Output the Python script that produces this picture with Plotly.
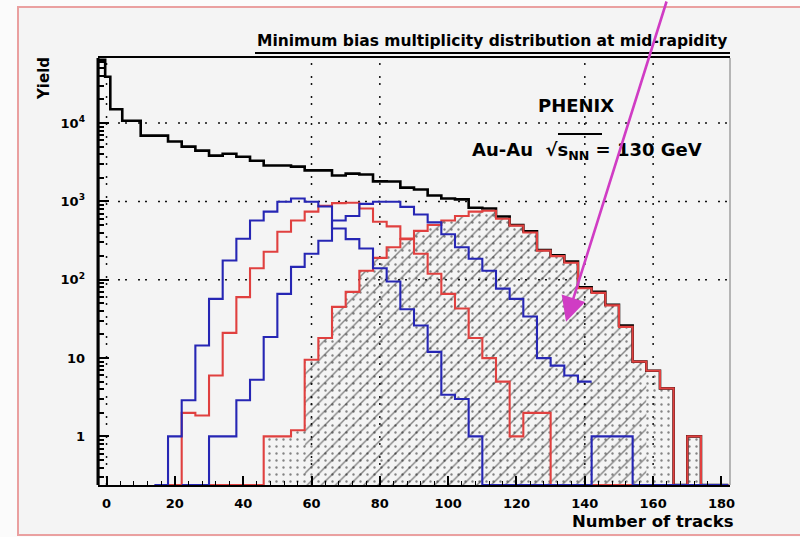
import numpy as np
import plotly.graph_objects as go

# ---------------------------------------------------------------- data
BIN_W = 4  # tracks per bin

# minimum-bias total: a few irregular leading bins, then regular 4-track bins from 10
total_lead_edges = [-2.5, -0.4, 1.1, 4.6, 10]
total_lead_vals = [64000, 39000, 15000, 10700]
total_start = 10
total_vals = [6900, 6900, 5800, 5000, 4450, 3840, 4060, 3710, 3300, 2870,
              2870, 2780, 2490, 2490, 2140, 2260, 2200, 1800, 1790, 1500,
              1420, 1190, 1090, 1060, 830, 810, 640, 500, 415, 240,
              205, 170, 80, 70, 48, 26, 9, 6.9, 4.1, 0,
              1, 0, 0]

# centrality-selected classes (bins of 4 tracks starting at the given edge)
blue1_start = 14
blue1_vals = [0, 1, 2.9, 14.5, 57, 176, 334, 570, 740, 990,
              1090, 990, 860, 450, 330, 250, 140, 95, 42, 26,
              12, 3.4, 3.0, 1, 0, 0, 0, 0, 0, 0,
              0, 0, 1, 1, 1, 0, 0, 0, 0, 0, 0, 0]

red1_start = 18
red1_vals = [0, 2.0, 1.85, 6.0, 21, 60, 140, 228, 410, 570,
             740, 880, 950, 960, 810, 550, 480, 335, 215, 119,
             66, 43, 18, 10, 5, 1, 2, 2, 0, 0,
             0, 0, 0, 0, 0, 0, 0, 0, 0, 0, 0]

blue2_start = 22
blue2_vals = [0, 0, 1, 1, 2.9, 5.3, 18.6, 66, 146, 215,
              315, 570, 650, 930, 990, 990, 850, 680, 540, 380,
              260, 185, 130, 77, 57, 34, 10, 8, 6, 5]

red2_start = 22
red2_vals = [0, 0, 0, 0, 0, 0, 1, 1, 1.2, 9.5,
             18, 45, 70, 130, 190, 260, 330, 420, 500, 570,
             650, 740, 760, 600, 490, 400, 235, 200, 165, 78,
             68, 47, 25, 9, 6.9, 4.1, 0, 1, 0, 0]

# hatched sub-range of the most central class (bin edges in tracks)
hatch_lo, hatch_hi = 58, 158

x_ticks = list(range(0, 181, 20))
y_ticks = [1, 10, 100, 1000, 10000]
y_ticktext = ["1", "10", "10<sup>2</sup>", "10<sup>3</sup>", "10<sup>4</sup>"]

title_text = "Minimum bias multiplicity distribution at mid-rapidity"
x_title = "Number of tracks"
y_title = "Yield"

# ---------------------------------------------------------------- helpers
X_RANGE = [-2.5, 182.5]
Y_RANGE = [-0.62, 4.83]
FLOOR = 10 ** Y_RANGE[0]  # empty bins are drawn on the bottom of the frame

BLUE = "#2626b4"
RED = "#e0403f"
MAGENTA = "#d03cc4"
FONT = "DejaVu Sans"


def step_xy(edges, vals, close_start=True, close_end=True):
    ys = [max(v, FLOOR) for v in vals]
    xs = [edges[0]] + list(edges[:-1]) + [edges[-1]]
    yy = [FLOOR] + ys + [ys[-1]]
    if not close_start:
        xs, yy = xs[1:], yy[1:]
    if close_end:
        xs.append(edges[-1])
        yy.append(FLOOR)
    return xs, yy


def regular_edges(start, n):
    return list(start + BIN_W * np.arange(n + 1))


def step_line(edges, vals, color, width, close_end=True):
    xs, ys = step_xy(edges, vals, close_end=close_end)
    return go.Scatter(x=xs, y=ys, mode="lines", line_shape="hv",
                      line=dict(color=color, width=width),
                      hoverinfo="skip", showlegend=False)


def step_fill(edges, vals, shape, size, solidity):
    xs, ys = step_xy(edges, vals)
    xs.append(xs[0])
    ys.append(ys[0])
    return go.Scatter(x=xs, y=ys, mode="lines", line_shape="hv",
                      line=dict(width=0, color="rgba(0,0,0,0)"),
                      fill="toself", fillcolor="rgba(0,0,0,0)",
                      fillpattern=dict(shape=shape, fgcolor="#111111",
                                       size=size, solidity=solidity),
                      hoverinfo="skip", showlegend=False)


total_edges = total_lead_edges + regular_edges(total_start, len(total_vals))[1:]
total_all = total_lead_vals + total_vals

red2_edges = regular_edges(red2_start, len(red2_vals))
i0 = (hatch_lo - red2_start) // BIN_W
i1 = (hatch_hi - red2_start) // BIN_W
hatch_edges = red2_edges[i0:i1 + 1]
hatch_vals = red2_vals[i0:i1]

fig = go.Figure()

# pattern fills of the most central class
fig.add_trace(step_fill(red2_edges, red2_vals, ".", 7, 0.09))
fig.add_trace(step_fill(hatch_edges, hatch_vals, "/", 10, 0.14))

# outlines
fig.add_trace(step_line(total_edges, total_all, "#000000", 2.6))
fig.add_trace(step_line(red2_edges, red2_vals, RED, 2.1))
fig.add_trace(step_line(regular_edges(red1_start, len(red1_vals)), red1_vals, RED, 2.1))
fig.add_trace(step_line(regular_edges(blue2_start, len(blue2_vals)), blue2_vals, BLUE, 2.1,
                        close_end=False))
fig.add_trace(step_line(regular_edges(blue1_start, len(blue1_vals)), blue1_vals, BLUE, 2.1))

# ---------------------------------------------------------------- layout
W, H = 800, 537
ML, MR, MT, MB = 98, 70, 58, 52
PW, PH = W - ML - MR, H - MT - MB


def px_x(px):
    return (px - ML) / PW


def px_y(py):
    return (H - MB - py) / PH


shapes = []
# canvas frame
shapes.append(dict(type="rect", xref="paper", yref="paper",
                   x0=px_x(18), x1=px_x(812), y0=px_y(535), y1=px_y(7),
                   line=dict(color="#eaa0a0", width=2), fillcolor="#f4f4f4",
                   layer="below"))
# dotted grid
grid_dash = "2px,5px,2px,11px"
for gx in [0, 60, 80, 140, 160]:
    shapes.append(dict(type="line", xref="x", yref="paper", x0=gx, x1=gx, y0=0, y1=1,
                       line=dict(color="#111111", width=1.5, dash=grid_dash), layer="below"))
for gy in [100, 1000, 10000]:
    shapes.append(dict(type="line", xref="paper", yref="y", x0=0, x1=1,
                       y0=gy, y1=gy,
                       line=dict(color="#111111", width=1.5, dash=grid_dash), layer="below"))
# heavy left axis and light right frame edge
shapes.append(dict(type="line", xref="paper", yref="paper", x0=0, x1=0, y0=0, y1=1,
                   line=dict(color="#000000", width=3)))
shapes.append(dict(type="line", xref="paper", yref="paper", x0=1, x1=1, y0=0, y1=1,
                   line=dict(color="#8a8a8a", width=1.2)))
# underline of the title box
shapes.append(dict(type="line", xref="paper", yref="paper",
                   x0=px_x(255), x1=1, y0=px_y(53), y1=px_y(53),
                   line=dict(color="#000000", width=2)))
# bar over s_NN
shapes.append(dict(type="line", xref="paper", yref="paper",
                   x0=px_x(558), x1=px_x(602), y0=px_y(134), y1=px_y(134),
                   line=dict(color="#000000", width=2)))

annotations = [
    dict(text=title_text, xref="paper", yref="paper", x=px_x(492), y=px_y(41),
         xanchor="center", yanchor="middle", showarrow=False,
         font=dict(family=FONT, size=15.5, color="#000000", weight="bold")),
    dict(text="PHENIX", xref="paper", yref="paper", x=px_x(576), y=px_y(105),
         xanchor="center", yanchor="middle", showarrow=False,
         font=dict(family=FONT, size=18, color="#000000", weight="bold")),
    dict(text="Au-Au  √s<sub>NN</sub> = 130 GeV", xref="paper", yref="paper",
         x=px_x(587), y=px_y(151), xanchor="center", yanchor="middle", showarrow=False,
         font=dict(family=FONT, size=18, color="#000000", weight="bold")),
    dict(text=y_title, xref="paper", yref="paper", x=px_x(44), y=px_y(79),
         xanchor="center", yanchor="middle", textangle=-90, showarrow=False,
         font=dict(family=FONT, size=15, color="#000000", weight="bold")),
    dict(text=x_title, xref="paper", yref="paper", x=px_x(736), y=px_y(521),
         xanchor="right", yanchor="middle", showarrow=False,
         font=dict(family=FONT, size=16.5, color="#000000", weight="bold")),
    dict(text="", x=134.5, y=np.log10(29), xref="x", yref="y",
         ax=101, ay=-330, axref="pixel", ayref="pixel",
         showarrow=True, arrowhead=2, arrowsize=1.9, arrowwidth=2.6,
         arrowcolor=MAGENTA),
]

minor_y = [m * 10.0 ** d for d in range(-1, 5) for m in range(2, 10)]

fig.update_layout(
    width=W, height=H,
    margin=dict(l=ML, r=MR, t=MT, b=MB, pad=0),
    paper_bgcolor="#fbfbfb",
    plot_bgcolor="#f4f4f4",
    showlegend=False,
    shapes=shapes,
    annotations=annotations,
    xaxis=dict(range=X_RANGE, tickvals=x_ticks, ticks="inside", ticklen=9,
               tickwidth=1.5, tickcolor="#000000", showline=True, linecolor="#000000",
               linewidth=1.5, mirror=True, showgrid=False, zeroline=False,
               ticklabelstandoff=6,
               tickfont=dict(family=FONT, size=13, color="#000000", weight="bold"),
               minor=dict(ticks="inside", ticklen=4, dtick=BIN_W, tick0=0,
                          tickcolor="#000000", tickwidth=1)),
    yaxis=dict(type="log", range=Y_RANGE, tickvals=y_ticks, ticktext=y_ticktext,
               ticks="inside", ticklen=11, tickwidth=2, tickcolor="#000000",
               showline=False, showgrid=False, zeroline=False,
               ticklabelstandoff=12,
               tickfont=dict(family=FONT, size=13, color="#000000", weight="bold"),
               minor=dict(ticks="inside", ticklen=6, tickvals=minor_y,
                          tickcolor="#000000", tickwidth=1.5)),
)

fig.write_html("out.html")
